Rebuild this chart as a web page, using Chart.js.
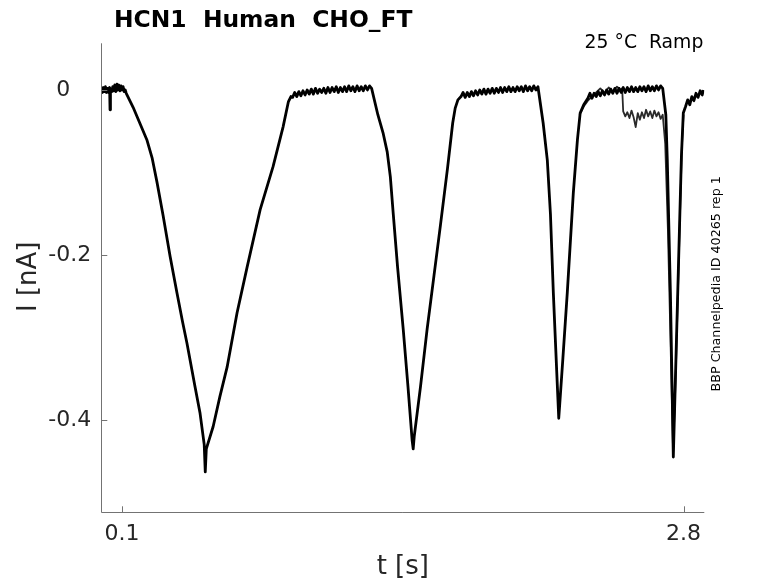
<!DOCTYPE html>
<html><head><meta charset="utf-8">
<script src="https://cdn.jsdelivr.net/npm/chart.js@4.4.1/dist/chart.umd.min.js"></script>
<style>html,body{margin:0;padding:0;background:#fff;overflow:hidden}</style>
</head><body>
<canvas id="c" width="778" height="583"></canvas>
<script>
const titleText = 'HCN1  Human  CHO_FT';
const conditionText = '25 °C  Ramp';
const sideNote = 'BBP Channelpedia ID 40265 rep 1';
const xLabel = 't [s]';
const yLabel = 'I [nA]';
const xTicks = [0.1, 2.8];
const yTicks = [-0.4, -0.2, 0];
const xRange = [0, 2.9];
const yRange = [-0.512, 0.0566];

// sweep 1 (time in s, current in nA)
const sweep1T = [
  0, 0.005, 0.01, 0.015, 0.02, 0.025, 0.03, 0.035, 0.04, 0.042, 0.044, 0.05, 0.055, 0.06, 0.065, 0.07, 0.075, 0.08, 0.085, 0.09, 0.095, 0.10, 0.105, 0.11, 0.115,
  0.12, 0.153, 0.185, 0.220, 0.245, 0.268, 0.297, 0.331, 0.364, 0.390, 0.412, 0.451, 0.475, 0.495, 0.500, 0.505,
  0.538, 0.570, 0.605, 0.653, 0.701, 0.764, 0.826, 0.874, 0.900, 0.912,
  0.92, 0.93, 0.94, 0.95, 0.96, 0.97, 0.98, 0.99, 1.00, 1.01, 1.02, 1.03, 1.04, 1.05, 1.06, 1.07, 1.08, 1.09, 1.10,
  1.11, 1.12, 1.13, 1.14, 1.15, 1.16, 1.17, 1.18, 1.19, 1.20, 1.21, 1.22, 1.23, 1.24, 1.25, 1.26, 1.27, 1.28, 1.29, 1.30,
  1.330, 1.356, 1.375, 1.390, 1.404, 1.425, 1.452, 1.475, 1.495, 1.500, 1.505,
  1.535, 1.567, 1.600, 1.630, 1.665, 1.690, 1.702, 1.715, 1.730,
  1.74, 1.75, 1.76, 1.77, 1.78, 1.79, 1.80, 1.81, 1.82, 1.83, 1.84, 1.85, 1.86, 1.87, 1.88, 1.89, 1.90, 1.91, 1.92,
  1.93, 1.94, 1.95, 1.96, 1.97, 1.98, 1.99, 2.00, 2.01, 2.02, 2.03, 2.04, 2.05, 2.06, 2.07, 2.08, 2.09, 2.10,
  2.125, 2.145, 2.160, 2.174, 2.190, 2.200, 2.205, 2.220, 2.241, 2.270, 2.290, 2.303, 2.32, 2.34,
  2.35, 2.36, 2.37, 2.38, 2.39, 2.40, 2.41, 2.42, 2.43, 2.44, 2.45, 2.46, 2.47, 2.48, 2.49, 2.50, 2.51, 2.52,
  2.53, 2.54, 2.55, 2.56, 2.57, 2.58, 2.59, 2.60, 2.61, 2.62, 2.63, 2.64, 2.65, 2.66, 2.67, 2.68, 2.69, 2.70,
  2.715, 2.722, 2.737, 2.751, 2.760, 2.775, 2.790, 2.799,
  2.81, 2.82, 2.83, 2.84, 2.85, 2.86, 2.87, 2.88, 2.89, 2.895
];
const sweep1I = [
  0.002, -0.003, 0.003, -0.002, 0.004, -0.003, 0.002, -0.003, 0.003, -0.024, 0.001, -0.002, 0.004, -0.001, 0.006, -0.002, 0.007, 0.000, 0.006, -0.001, 0.005, 0.000, 0.004, -0.002, 0.000,
  -0.004, -0.021, -0.040, -0.061, -0.083, -0.112, -0.152, -0.202, -0.246, -0.280, -0.307, -0.360, -0.392, -0.430, -0.463, -0.435,
  -0.408, -0.372, -0.336, -0.270, -0.215, -0.145, -0.093, -0.045, -0.014, -0.008,
  -0.009, -0.003, -0.008, -0.002, -0.007, -0.001, -0.006, 0.000, -0.005, 0.001, -0.005, 0.002, -0.004, 0.001, -0.003, 0.002, -0.004, 0.003, -0.003,
  0.003, -0.002, 0.004, -0.003, 0.003, -0.002, 0.004, -0.002, 0.005, -0.001, 0.004, -0.002, 0.005, -0.001, 0.004, -0.001, 0.005, 0.000, 0.005, 0.002,
  -0.030, -0.053, -0.075, -0.105, -0.150, -0.215, -0.290, -0.360, -0.425, -0.435, -0.420,
  -0.360, -0.290, -0.225, -0.166, -0.095, -0.040, -0.022, -0.012, -0.008,
  -0.003, -0.009, -0.003, -0.008, -0.002, -0.007, -0.001, -0.006, 0.000, -0.005, 0.001, -0.005, 0.001, -0.004, 0.002, -0.004, 0.002, -0.003, 0.003,
  -0.003, 0.003, -0.002, 0.004, -0.002, 0.003, -0.002, 0.004, -0.001, 0.004, -0.002, 0.005, -0.001, 0.004, -0.001, 0.005, 0.000, 0.004,
  -0.040, -0.085, -0.150, -0.246, -0.340, -0.398, -0.380, -0.325, -0.246, -0.125, -0.060, -0.028, -0.018, -0.010,
  -0.004, -0.010, -0.004, -0.008, -0.002, -0.007, -0.001, -0.006, 0.000, -0.005, 0.001, -0.004, 0.002, -0.004, 0.002, -0.003, 0.003, -0.003,
  0.003, -0.002, 0.004, -0.002, 0.003, -0.002, 0.004, -0.001, 0.004, -0.002, 0.005, -0.001, 0.004, -0.001, 0.005, 0.000, 0.005, 0.002,
  -0.030, -0.085, -0.246, -0.445, -0.360, -0.220, -0.080, -0.028,
  -0.020, -0.012, -0.018, -0.008, -0.013, -0.004, -0.009, -0.001, -0.006, 0.000
];

// sweep 2 (only where it departs from sweep 1)
const sweep2T = [
  2.30, 2.32, 2.34, 2.36, 2.38, 2.40, 2.42, 2.44, 2.46, 2.48, 2.50, 2.505, 2.51, 2.52, 2.53, 2.54, 2.55, 2.56, 2.57, 2.58, 2.59,
  2.60, 2.61, 2.62, 2.63, 2.64, 2.65, 2.66, 2.67, 2.68, 2.69, 2.70, 2.712, 2.725, 2.738, 2.750, 2.762, 2.778, 2.792, 2.80
];
const sweep2I = [
  -0.030, -0.020, -0.013, -0.008, -0.003, 0.002, -0.004, 0.003, -0.002, 0.004, 0.000, 0.002, -0.026, -0.032, -0.027, -0.034, -0.025, -0.033, -0.045, -0.028, -0.036,
  -0.027, -0.034, -0.024, -0.032, -0.026, -0.034, -0.025, -0.032, -0.027, -0.035, -0.030, -0.065, -0.170, -0.310, -0.440, -0.350, -0.200, -0.070, -0.030
];

const toPts = (ts, is) => ts.map((t, k) => ({x: t, y: is[k]}));
const TXT = '#262626';
const FONT = '"DejaVu Sans", sans-serif';

const decor = {
  id: 'decor',
  afterDraw(chart) {
    const ctx = chart.ctx;
    const {left, right, top, bottom} = chart.chartArea;
    const xs = chart.scales.x, ys = chart.scales.y;
    ctx.save();
    // axes
    ctx.strokeStyle = '#737373';
    ctx.lineWidth = 1;
    ctx.beginPath();
    ctx.moveTo(Math.round(left) + 0.5, top);
    ctx.lineTo(Math.round(left) + 0.5, Math.round(bottom) + 0.5);
    ctx.lineTo(right, Math.round(bottom) + 0.5);
    ctx.stroke();
    // tick marks (inward)
    ctx.beginPath();
    xs.ticks.forEach(t => {
      const px = Math.round(xs.getPixelForValue(t.value)) + 0.5;
      ctx.moveTo(px, bottom); ctx.lineTo(px, bottom - 6);
    });
    ys.ticks.forEach(t => {
      const py = Math.round(ys.getPixelForValue(t.value)) + 0.5;
      ctx.moveTo(left, py); ctx.lineTo(left + 6, py);
    });
    ctx.stroke();
    // tick labels
    ctx.fillStyle = TXT;
    ctx.font = '22px ' + FONT;
    ctx.textBaseline = 'middle';
    ctx.textAlign = 'center';
    xs.ticks.forEach(t => {
      ctx.fillText(String(t.value), xs.getPixelForValue(t.value), bottom + 22);
    });
    ctx.textAlign = 'right';
    ys.ticks.forEach(t => {
      const lab = t.value === 0 ? '0' : String(t.value);
      const rx = t.value === 0 ? left - 31 : left - 10;
      ctx.fillText(lab, rx, ys.getPixelForValue(t.value));
    });
    // axis labels
    ctx.font = '26px ' + FONT;
    ctx.textAlign = 'center';
    ctx.fillText(xLabel, (left + right) / 2, bottom + 55);
    ctx.save();
    ctx.translate(29, (top + bottom) / 2 - 1);
    ctx.rotate(-Math.PI / 2);
    ctx.fillText(yLabel, 0, 0);
    ctx.restore();
    // title
    ctx.fillStyle = '#000';
    ctx.font = 'bold 23.4px ' + FONT;
    ctx.textAlign = 'left';
    ctx.textBaseline = 'alphabetic';
    ctx.fillText(titleText, 114, 27);
    // condition
    ctx.font = '18.8px ' + FONT;
    ctx.textAlign = 'right';
    ctx.fillText(conditionText, right - 1, 48);
    // side note
    ctx.save();
    ctx.translate(right + 12, (top + bottom) / 2 + 6);
    ctx.rotate(-Math.PI / 2);
    ctx.font = '12.7px ' + FONT;
    ctx.textAlign = 'center';
    ctx.textBaseline = 'middle';
    ctx.fillText(sideNote, 0, 0);
    ctx.restore();
    ctx.restore();
  }
};

new Chart(document.getElementById('c'), {
  type: 'line',
  data: {
    datasets: [
      {label: 'sweep 1', data: toPts(sweep1T, sweep1I), borderColor: '#000', borderWidth: 2.8,
       pointRadius: 0, tension: 0, borderJoinStyle: 'round', order: 1},
      {label: 'sweep 2', data: toPts(sweep2T, sweep2I), borderColor: '#2a2a2a', borderWidth: 1.8,
       pointRadius: 0, tension: 0, borderJoinStyle: 'round', order: 2}
    ]
  },
  options: {
    responsive: false,
    animation: false,
    devicePixelRatio: 1,
    layout: {padding: {top: 43.3, right: 73.7, left: 0, bottom: 0}},
    plugins: {legend: {display: false}, tooltip: {enabled: false}, title: {display: false}},
    scales: {
      x: {
        type: 'linear', min: xRange[0], max: xRange[1],
        grid: {display: false}, border: {display: false},
        ticks: {display: false},
        afterBuildTicks: s => { s.ticks = xTicks.map(v => ({value: v})); },
        afterFit: s => { s.height = 70.7; }
      },
      y: {
        type: 'linear', min: yRange[0], max: yRange[1],
        grid: {display: false}, border: {display: false},
        ticks: {display: false},
        afterBuildTicks: s => { s.ticks = yTicks.map(v => ({value: v})); },
        afterFit: s => { s.width = 101.3; }
      }
    }
  },
  plugins: [decor]
});
</script>
</body></html>
